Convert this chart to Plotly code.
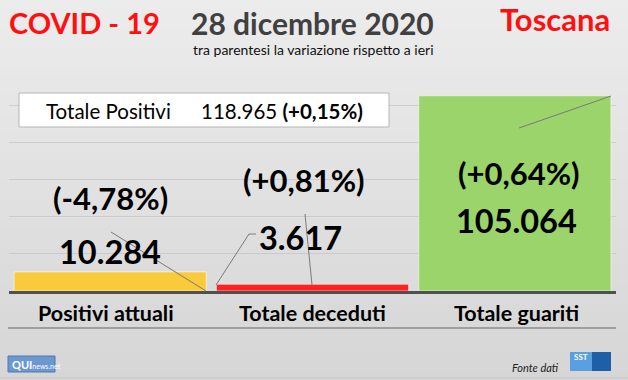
import plotly.graph_objects as go

W, H = 628, 380

categories = ["Positivi attuali", "Totale deceduti", "Totale guariti"]
values = [10284, 3617, 105064]
value_labels = ["10.284", "3.617", "105.064"]
change_labels = ["(-4,78%)", "(+0,81%)", "(+0,64%)"]
bar_colors = ["#F9CB3C", "#FF2222", "#9BD46A"]
y_ticks = [0, 20000, 40000, 60000, 80000, 100000, 120000]

title_left = "COVID - 19"
title_date = "28 dicembre 2020"
subtitle = "tra parentesi la variazione rispetto a ieri"
region = "Toscana"
total_label = "Totale Positivi"
total_value = "118.965"
total_change = "(+0,15%)"
source = "Fonte dati"

FONT = "Lato"


def px(x):
    return x / W


def py(y):
    return 1 - y / H


fig = go.Figure()
fig.add_trace(go.Bar(
    x=categories, y=values,
    marker=dict(color=bar_colors, line=dict(color="rgba(255,255,255,0.55)", width=1)),
    width=0.95, hoverinfo="skip",
))

shapes = []
# background gradient
n = 40
c0, c1 = (236, 236, 236), (214, 214, 214)
for i in range(n):
    t = i / (n - 1)
    c = tuple(int(round(c0[k] + (c1[k] - c0[k]) * t)) for k in range(3))
    shapes.append(dict(type="rect", xref="paper", yref="paper", x0=0, x1=1,
                       y0=1 - (i + 1) / n, y1=1 - i / n + 0.001,
                       fillcolor="rgb(%d,%d,%d)" % c, line=dict(width=0), layer="below"))

# leader lines (pixel coordinates of decorations)
leaders = [
    ((111, 232), (206, 291)),
    ((216, 285), (249, 234)),
    ((249, 234), (256, 234)),
    ((305, 214), (312, 285)),
    ((519, 128), (611, 96)),
]
for (a, b) in leaders:
    shapes.append(dict(type="line", xref="paper", yref="paper",
                       x0=px(a[0]), y0=py(a[1]), x1=px(b[0]), y1=py(b[1]),
                       line=dict(color="#7a7a7a", width=1)))

# total positivi box
shapes.append(dict(type="rect", xref="paper", yref="paper",
                   x0=px(19), x1=px(389), y0=py(127), y1=py(93),
                   fillcolor="white", line=dict(color="#b5b5b5", width=1)))
# separator under category labels
shapes.append(dict(type="line", xref="paper", yref="paper",
                   x0=px(8), x1=px(616), y0=py(328), y1=py(328),
                   line=dict(color="#8a8a8a", width=1.5)))
shapes.append(dict(type="line", xref="paper", yref="paper",
                   x0=0, x1=1, y0=py(378), y1=py(378),
                   line=dict(color="#c8c8c8", width=1)))
# logos
shapes.append(dict(type="rect", xref="paper", yref="paper",
                   x0=px(8), x1=px(55), y0=py(372), y1=py(356),
                   fillcolor="#6d98cf", line=dict(color="#4d78b0", width=1)))
shapes.append(dict(type="rect", xref="paper", yref="paper",
                   x0=px(570), x1=px(592), y0=py(371), y1=py(352),
                   fillcolor="#5aa0e0", line=dict(width=0)))
shapes.append(dict(type="rect", xref="paper", yref="paper",
                   x0=px(592), x1=px(611), y0=py(371), y1=py(352),
                   fillcolor="#1f5fa8", line=dict(width=0)))

ann = []


def text(x, y, s, size, color="black", anchor="center", bold=False, italic=False, family=FONT):
    if bold:
        s = "<b>" + s + "</b>"
    if italic:
        s = "<i>" + s + "</i>"
    ann.append(dict(xref="paper", yref="paper", x=px(x), y=py(y), text=s,
                    showarrow=False, xanchor=anchor, yanchor="middle",
                    font=dict(size=size, color=color, family=family)))


text(84, 23, title_left, 29, color="#FF1010", bold=True)
text(312, 23, title_date, 30, color="#404040", bold=True)
text(313, 49, subtitle, 14, color="#111111")
text(555, 19, region, 31, color="#FF1010", bold=True)

text(108, 111, total_label, 20.5)
ann.append(dict(xref="paper", yref="paper", x=px(199), y=py(111),
                text=total_value + " <b>" + total_change + "</b>", showarrow=False,
                xanchor="left", yanchor="middle",
                font=dict(size=20.5, color="black", family=FONT)))

# data labels (x via category axis)
val_y = [252, 237, 220]
chg_y = [198, 180, 173]
val_dx = [-0.0, -0.06, 0.01]
chg_dx = [0.0, -0.04, 0.02]
for i, c in enumerate(categories):
    ann.append(dict(xref="x", yref="paper", x=i + val_dx[i], y=py(val_y[i]),
                    text="<b>" + value_labels[i] + "</b>", showarrow=False,
                    xanchor="center", yanchor="middle",
                    font=dict(size=32.5, color="black", family=FONT)))
    ann.append(dict(xref="x", yref="paper", x=i + chg_dx[i], y=py(chg_y[i]),
                    text="<b>" + change_labels[i] + "</b>", showarrow=False,
                    xanchor="center", yanchor="middle",
                    font=dict(size=31, color="black", family=FONT)))
    ann.append(dict(xref="x", yref="paper", x=i - 0.02 * (i == 0) + 0.01 * (i == 2), y=py(313),
                    text="<b>" + c + "</b>", showarrow=False,
                    xanchor="center", yanchor="middle",
                    font=dict(size=21.5, color="black", family=FONT)))

text(535, 367, source, 11, color="#222222", italic=True)
ann.append(dict(xref="paper", yref="paper", x=px(10), y=py(364),
                text="<b>QUI</b><span style='font-size:7px'>news.net</span>",
                showarrow=False, xanchor="left", yanchor="middle",
                font=dict(size=11, color="white", family=FONT)))
ann.append(dict(xref="paper", yref="paper", x=px(581), y=py(357),
                text="<b>SST</b>", showarrow=False, xanchor="center", yanchor="middle",
                font=dict(size=8, color="white", family=FONT)))

fig.update_layout(
    width=W, height=H,
    margin=dict(l=0, r=0, t=0, b=0),
    paper_bgcolor="#e2e2e2",
    plot_bgcolor="rgba(0,0,0,0)",
    showlegend=False,
    shapes=shapes,
    annotations=ann,
    bargap=0.05,
    xaxis=dict(domain=[px(9), px(616)], showticklabels=False, ticks="",
               showline=True, linecolor="#505050", linewidth=2.5,
               range=[-0.5, 2.5], showgrid=False, fixedrange=True),
    yaxis=dict(domain=[py(291), py(68)], range=[0, 120000], tickvals=y_ticks,
               showticklabels=False, showgrid=True, gridcolor="rgba(185,185,185,0.55)",
               gridwidth=1, zeroline=False, showline=False, fixedrange=True),
)

fig.write_html("out.html", config={"displayModeBar": False},
               post_script="document.body.style.margin='0';document.body.style.overflow='hidden';")
